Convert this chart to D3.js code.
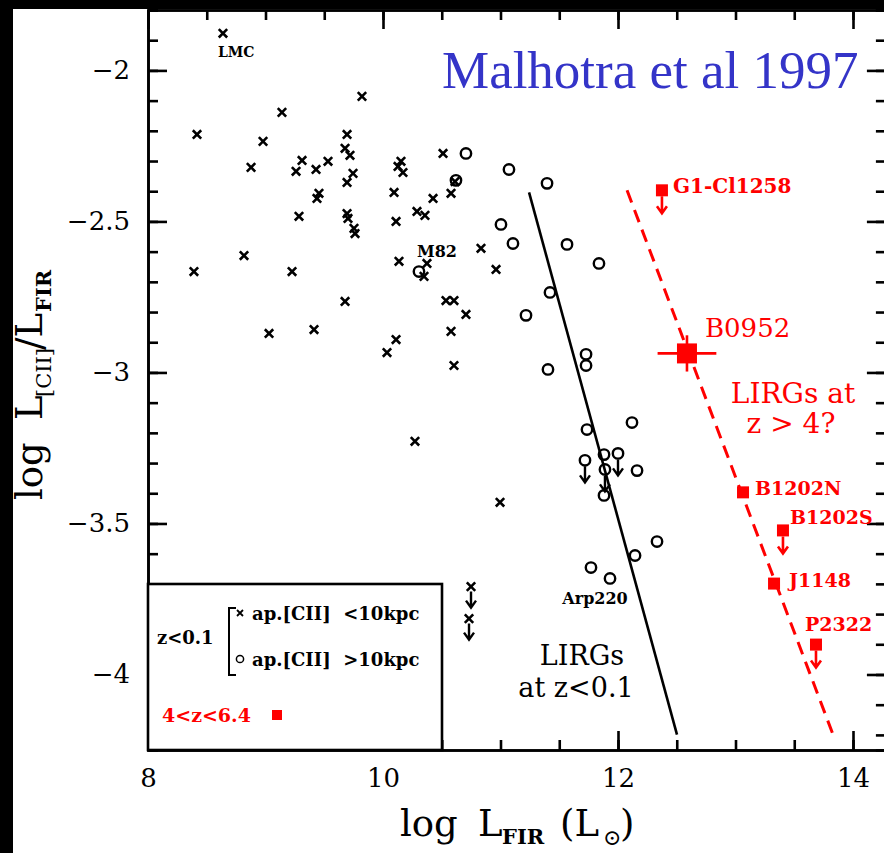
<!DOCTYPE html>
<html>
<head>
<meta charset="utf-8">
<script src="https://cdn.jsdelivr.net/npm/d3@7"></script>
<style>
  body { margin: 0; background: #fff; }
  svg { display: block; }
</style>
</head>
<body>
<svg id="chart" width="884" height="853"></svg>
<script>
// ---- data: log L_FIR (x) vs log L[CII]/L_FIR (y) ----
// z<0.1 galaxies, [CII] aperture < 10 kpc (crosses)
const compactPts = [
  [8.638,-1.877],[8.417,-2.212],[9.140,-2.139],[8.979,-2.235],[8.877,-2.321],
  [9.260,-2.334],[9.311,-2.298],[9.430,-2.328],[9.532,-2.301],[9.438,-2.424],
  [9.455,-2.407],[9.285,-2.483],[8.817,-2.613],[8.391,-2.666],[9.226,-2.666],
  [9.821,-2.086],[9.694,-2.212],[9.677,-2.258],[9.719,-2.281],[9.745,-2.341],
  [9.694,-2.371],[9.694,-2.474],[9.702,-2.490],[9.753,-2.523],[9.762,-2.540],
  [10.153,-2.301],[10.128,-2.318],[10.170,-2.338],[10.511,-2.275],[10.613,-2.368],
  [10.094,-2.404],[10.426,-2.424],[10.579,-2.407],[10.289,-2.467],[10.357,-2.480],
  [10.111,-2.500],[10.834,-2.589],[10.136,-2.632],[10.374,-2.639],[10.349,-2.682],
  [10.962,-2.659],[9.677,-2.765],[10.536,-2.762],[10.604,-2.762],[10.706,-2.808],
  [10.579,-2.864],[10.111,-2.891],[10.034,-2.934],[10.604,-2.977],[9.413,-2.858],
  [9.030,-2.871],[10.272,-3.228],[10.996,-3.430]
];
const compactLimits = [[10.749,-3.709],[10.732,-3.815]];

// z<0.1 galaxies, [CII] aperture > 10 kpc (circles)
const extendedPts = [
  [10.706,-2.275],[10.621,-2.364],[11.072,-2.328],[11.396,-2.374],[11.004,-2.510],
  [11.106,-2.573],[11.566,-2.576],[11.838,-2.639],[11.421,-2.735],[11.217,-2.811],
  [11.728,-2.940],[11.728,-2.977],[11.404,-2.990],[10.306,-2.666],[12.119,-3.166],
  [11.736,-3.189],[11.881,-3.272],[12.162,-3.325],[11.881,-3.407],[12.332,-3.560],
  [12.145,-3.606],[11.770,-3.646],[11.932,-3.682]
];
const extendedLimits = [[11.719,-3.291],[12.000,-3.268],[11.889,-3.321]];

// named local galaxies
const localNames = ["LMC", "M82", "Arp220"];
const localX = [8.638, 10.306, 11.932];
const localY = [-1.877, -2.666, -3.682];

// 4<z<6.4 sources
const hzNames  = ["G1-Cl1258", "B0952", "B1202N", "B1202S", "J1148", "P2322"];
const hzX      = [12.374, 12.587, 13.064, 13.404, 13.328, 13.685];
const hzY      = [-2.397, -2.937, -3.397, -3.523, -3.699, -3.901];
const hzLimit  = [true, false, false, true, false, true];
const b0952ErrX = 0.25;
const b0952ErrY = 0.06;

// trend lines
const lowzLine  = [[11.243,-2.404],[12.502,-4.199]];
const highzLine = [[12.077,-2.397],[13.830,-4.199]];

// axis ticks
const xMajor = [8, 10, 12, 14];
const xMinor = d3.range(8, 14.3, 0.5);
const yMajor = [-4, -3.5, -3, -2.5, -2];
const yMinor = d3.range(-4.2, -1.79, 0.1).map(v => +v.toFixed(1));

// ---- drawing ----
const svg = d3.select("#chart");
const RED = "#ff0000";
const SERIF = "'DejaVu Serif', serif";

const x = d3.scaleLinear().domain([8, 14.28]).range([148, 885.9]);
const y = d3.scaleLinear().domain([-4.25, -1.8]).range([750, 10]);

svg.append("rect").attr("width", 884).attr("height", 853).attr("fill", "#fff");

function styleAxis(g, labelled) {
  g.select(".domain").attr("stroke", "#000").attr("stroke-width", 2.6);
  g.selectAll(".tick line").attr("stroke", "#000").attr("stroke-width", 2.6);
  g.selectAll(".tick text")
    .attr("font-family", SERIF).attr("font-size", 26).attr("fill", "#000");
  if (!labelled) g.selectAll(".tick text").remove();
}

// bottom axis
svg.append("g").attr("transform", "translate(0,750)")
  .call(d3.axisBottom(x).tickValues(xMinor).tickSize(-10).tickFormat(""))
  .call(g => styleAxis(g, false));
svg.append("g").attr("transform", "translate(0,750)")
  .call(d3.axisBottom(x).tickValues(xMajor).tickSizeInner(-19).tickSizeOuter(0)
        .tickPadding(19).tickFormat(d3.format("d")))
  .call(g => styleAxis(g, true));
// top axis
svg.append("g").attr("transform", "translate(0,10)")
  .call(d3.axisTop(x).tickValues(xMinor).tickSize(-10).tickFormat(""))
  .call(g => styleAxis(g, false));
svg.append("g").attr("transform", "translate(0,10)")
  .call(d3.axisTop(x).tickValues(xMajor).tickSizeInner(-19).tickSizeOuter(0).tickFormat(""))
  .call(g => styleAxis(g, false));
// left axis
svg.append("g").attr("transform", "translate(148,0)")
  .call(d3.axisLeft(y).tickValues(yMinor).tickSize(-10).tickFormat(""))
  .call(g => styleAxis(g, false));
svg.append("g").attr("transform", "translate(148,0)")
  .call(d3.axisLeft(y).tickValues(yMajor).tickSizeInner(-19).tickSizeOuter(0)
        .tickPadding(18).tickFormat(d3.format("~g")))
  .call(g => styleAxis(g, true));
// right axis
svg.append("g").attr("transform", `translate(${x(14.28)},0)`)
  .call(d3.axisRight(y).tickValues(yMinor).tickSize(-10).tickFormat(""))
  .call(g => styleAxis(g, false));
svg.append("g").attr("transform", `translate(${x(14.28)},0)`)
  .call(d3.axisRight(y).tickValues(yMajor).tickSizeInner(-19).tickSizeOuter(0).tickFormat(""))
  .call(g => styleAxis(g, false));

// axis titles
const xt = svg.append("text").attr("font-family", SERIF).attr("fill", "#000").attr("y", 836);
xt.append("tspan").attr("x", 400).attr("font-size", 37).text("log");
xt.append("tspan").attr("x", 478).attr("font-size", 37).text("L");
xt.append("tspan").attr("x", 502).attr("dy", 8).attr("font-size", 21).attr("font-weight", "bold").text("FIR");
xt.append("tspan").attr("x", 560).attr("dy", -8).attr("font-size", 37).text("(L");
xt.append("tspan").attr("x", 603).attr("dy", 9).attr("font-size", 22).text("⊙");
xt.append("tspan").attr("x", 620).attr("dy", -9).attr("font-size", 37).text(")");

const yt = svg.append("text").attr("font-family", SERIF).attr("fill", "#000")
  .attr("transform", "translate(42,0) rotate(-90)");
yt.append("tspan").attr("x", -500).attr("font-size", 37).text("log");
yt.append("tspan").attr("x", -420).attr("font-size", 37).text("L");
yt.append("tspan").attr("x", -397).attr("dy", 9).attr("font-size", 21).text("[CII]");
yt.append("tspan").attr("x", -350).attr("dy", -9).attr("font-size", 37).text("/L");
yt.append("tspan").attr("x", -312).attr("dy", 9).attr("font-size", 21).attr("font-weight", "bold").text("FIR");

// trend lines
const line = d3.line().x(d => x(d[0])).y(d => y(d[1]));
svg.append("path").attr("d", line(lowzLine)).attr("fill", "none")
  .attr("stroke", "#000").attr("stroke-width", 2.6);
svg.append("path").attr("d", line(highzLine)).attr("fill", "none")
  .attr("stroke", RED).attr("stroke-width", 3).attr("stroke-dasharray", "13,8");

// markers
function crossPath(a) { return `M${-a},${-a}L${a},${a}M${-a},${a}L${a},${-a}`; }
function arrowDown(g, px, py, top, len, color, w) {
  g.append("path")
    .attr("d", `M${px},${py + top}L${px},${py + top + len}M${px - 5},${py + top + len - 7}L${px},${py + top + len}L${px + 5},${py + top + len - 7}`)
    .attr("fill", "none").attr("stroke", color).attr("stroke-width", w);
}

const gPts = svg.append("g");
gPts.selectAll(".cross").data(compactPts.concat(compactLimits)).join("path")
  .attr("class", "cross")
  .attr("transform", d => `translate(${x(d[0])},${y(d[1])})`)
  .attr("d", crossPath(4.2)).attr("stroke", "#000").attr("stroke-width", 2.6).attr("fill", "none");
compactLimits.forEach(d => arrowDown(gPts, x(d[0]), y(d[1]), 5, 16, "#000", 2.4));

gPts.selectAll(".circ").data(extendedPts.concat(extendedLimits)).join("circle")
  .attr("class", "circ")
  .attr("cx", d => x(d[0])).attr("cy", d => y(d[1])).attr("r", 5.2)
  .attr("fill", "none").attr("stroke", "#000").attr("stroke-width", 2.4);
extendedLimits.forEach(d => arrowDown(gPts, x(d[0]), y(d[1]), 6, 16, "#000", 2.4));

// local galaxy labels (pixel offsets from their markers)
const localOffsets = { LMC: [-5, 24, "start", 14], M82: [-2, -15, "start", 16], Arp220: [-15, 26, "middle", 16] };
localNames.forEach((n, i) => {
  const o = localOffsets[n];
  svg.append("text").attr("x", x(localX[i]) + o[0]).attr("y", y(localY[i]) + o[1])
    .attr("text-anchor", o[2]).attr("font-family", SERIF).attr("font-weight", "bold")
    .attr("font-size", o[3]).attr("fill", "#000").text(n);
});

// high-z sources
const gHz = svg.append("g");
const bi = hzNames.indexOf("B0952");
gHz.append("line").attr("x1", x(hzX[bi] - b0952ErrX)).attr("x2", x(hzX[bi] + b0952ErrX))
  .attr("y1", y(hzY[bi])).attr("y2", y(hzY[bi])).attr("stroke", RED).attr("stroke-width", 2.6);
gHz.append("line").attr("x1", x(hzX[bi])).attr("x2", x(hzX[bi]))
  .attr("y1", y(hzY[bi] + b0952ErrY)).attr("y2", y(hzY[bi] - b0952ErrY)).attr("stroke", RED).attr("stroke-width", 2.6);

hzNames.forEach((n, i) => {
  const s = n === "B0952" ? 20 : 12;
  const px = x(hzX[i]), py = y(hzY[i]);
  gHz.append("rect").attr("x", px - s / 2).attr("y", py - s / 2)
    .attr("width", s).attr("height", s).attr("fill", RED);
  if (hzLimit[i]) arrowDown(gHz, px, py, 6, 17, RED, 2.6);
});

const hzOffsets = {
  "G1-Cl1258": [11, 3, 20], "B0952": [18, -16, 26], "B1202N": [12, 3, 19],
  "B1202S": [7, -6, 19], "J1148": [15, 3, 19], "P2322": [-11, -14, 19]
};
hzNames.forEach((n, i) => {
  const o = hzOffsets[n];
  gHz.append("text").attr("x", x(hzX[i]) + o[0]).attr("y", y(hzY[i]) + o[1])
    .attr("font-family", SERIF).attr("font-weight", n === "B0952" ? "normal" : "bold")
    .attr("font-size", o[2]).attr("fill", RED).text(n);
});

// annotations
svg.append("text").attr("x", 793).attr("y", 403).attr("text-anchor", "middle")
  .attr("font-family", SERIF).attr("font-size", 28).attr("fill", RED).text("LIRGs at");
svg.append("text").attr("x", 791).attr("y", 433).attr("text-anchor", "middle")
  .attr("font-family", SERIF).attr("font-size", 28).attr("fill", RED).text("z > 4?");
svg.append("text").attr("x", 582).attr("y", 665).attr("text-anchor", "middle")
  .attr("font-family", SERIF).attr("font-size", 27).attr("fill", "#000").text("LIRGs");
svg.append("text").attr("x", 576).attr("y", 697).attr("text-anchor", "middle")
  .attr("font-family", SERIF).attr("font-size", 27).attr("fill", "#000").text("at z<0.1");

// legend
const lg = svg.append("g");
lg.append("rect").attr("x", 148).attr("y", 584).attr("width", 294).attr("height", 166)
  .attr("fill", "#fff").attr("stroke", "#000").attr("stroke-width", 2.6);
lg.append("text").attr("x", 157).attr("y", 644).attr("font-family", SERIF)
  .attr("font-weight", "bold").attr("font-size", 18).attr("fill", "#000").text("z<0.1");
lg.append("path").attr("d", "M236,608L229,608L229,675L236,675").attr("fill", "none")
  .attr("stroke", "#000").attr("stroke-width", 2);
lg.append("path").attr("transform", "translate(240,613)").attr("d", crossPath(3))
  .attr("stroke", "#000").attr("stroke-width", 1.8);
lg.append("circle").attr("cx", 240).attr("cy", 659).attr("r", 3.6)
  .attr("fill", "none").attr("stroke", "#000").attr("stroke-width", 1.5);
lg.append("text").attr("x", 252).attr("y", 620).attr("font-family", SERIF)
  .attr("font-weight", "bold").attr("font-size", 18).attr("fill", "#000")
  .attr("xml:space", "preserve").text("ap.[CII]  <10kpc");
lg.append("text").attr("x", 252).attr("y", 666).attr("font-family", SERIF)
  .attr("font-weight", "bold").attr("font-size", 18).attr("fill", "#000")
  .attr("xml:space", "preserve").text("ap.[CII]  >10kpc");
lg.append("text").attr("x", 162).attr("y", 722).attr("font-family", SERIF)
  .attr("font-weight", "bold").attr("font-size", 19).attr("fill", RED).text("4<z<6.4");
lg.append("rect").attr("x", 272).attr("y", 710).attr("width", 10).attr("height", 10).attr("fill", RED);

// title
svg.append("text").attr("x", 442).attr("y", 88)
  .attr("font-family", "'Liberation Serif', 'Times New Roman', serif")
  .attr("font-size", 53).attr("fill", "#3434c8").text("Malhotra et al 1997");

// dark borders along the top and left edges
svg.append("rect").attr("x", 0).attr("y", 0).attr("width", 884).attr("height", 9).attr("fill", "#000");
svg.append("rect").attr("x", 0).attr("y", 0).attr("width", 13).attr("height", 853).attr("fill", "#000");
</script>
</body>
</html>
